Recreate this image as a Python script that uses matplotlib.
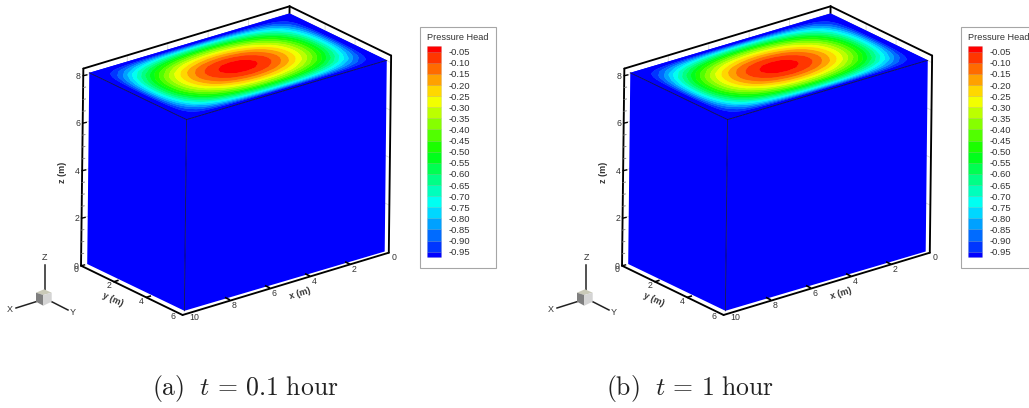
import numpy as np
import matplotlib
matplotlib.use("Agg")
import matplotlib.pyplot as plt

plt.rcParams['font.family'] = ['Liberation Sans', 'DejaVu Sans']
plt.rcParams['mathtext.fontset'] = 'cm'

# Pressure head on the top face z = 8.
# One quadrant only: columns are distance from x = 5, rows distance from y = 3.
dist_x = [0, 0.48, 0.96, 1.44, 1.92, 2.4, 2.88, 3.36, 3.84, 4.32, 4.56, 4.8, 5]
dist_y = [0, 0.24, 0.48, 0.72, 0.96, 1.44, 1.92, 2.4, 2.64, 2.88, 3]
top_head = [
    [-.022, -.030, -.053, -.093, -.149, -.224, -.319, -.439, -.586, -.769, -.877, -1, -1],
    [-.028, -.035, -.058, -.098, -.154, -.229, -.324, -.442, -.589, -.771, -.878, -1, -1],
    [-.044, -.051, -.074, -.113, -.169, -.243, -.336, -.453, -.598, -.776, -.881, -1, -1],
    [-.071, -.078, -.101, -.139, -.194, -.266, -.358, -.472, -.612, -.785, -.886, -1, -1],
    [-.109, -.117, -.139, -.176, -.229, -.299, -.388, -.498, -.633, -.797, -.893, -1, -1],
    [-.224, -.231, -.251, -.285, -.333, -.396, -.475, -.573, -.691, -.831, -.911, -1, -1],
    [-.396, -.401, -.418, -.447, -.486, -.538, -.603, -.680, -.772, -.878, -.936, -1, -1],
    [-.643, -.647, -.657, -.676, -.702, -.735, -.775, -.822, -.875, -.935, -.967, -1, -1],
    [-.804, -.806, -.813, -.823, -.838, -.857, -.880, -.906, -.935, -.967, -.983, -1, -1],
    [-1, -1, -1, -1, -1, -1, -1, -1, -1, -1, -1, -1, -1],
    [-1, -1, -1, -1, -1, -1, -1, -1, -1, -1, -1, -1, -1],
]

levels = [-1.0, -0.95, -0.90, -0.85, -0.80, -0.75, -0.70, -0.65, -0.60, -0.55, -0.50,
          -0.45, -0.40, -0.35, -0.30, -0.25, -0.20, -0.15, -0.10, -0.05, 0.0]
band_colors = ['#0000ff', '#0036ff', '#006bff', '#00a1ff', '#00d7ff', '#00fff2', '#00ffbc',
               '#00ff86', '#00ff51', '#00ff1b', '#1bff00', '#51ff00', '#86ff00', '#bcff00',
               '#f2ff00', '#ffd700', '#ffa100', '#ff6b00', '#ff3600', '#ff0000']
legend_labels = ['-0.05', '-0.10', '-0.15', '-0.20', '-0.25', '-0.30', '-0.35', '-0.40', '-0.45',
                 '-0.50', '-0.55', '-0.60', '-0.65', '-0.70', '-0.75', '-0.80', '-0.85', '-0.90', '-0.95']
x_ticks = [0, 2, 4, 6, 8, 10]
y_ticks = [0, 2, 4, 6]
z_ticks = [0, 2, 4, 6, 8]
z_minor = [0.5, 1, 1.5, 2.5, 3, 3.5, 4.5, 5, 5.5, 6.5, 7, 7.5]
captions = [r'$\mathrm{(a)}\ \ t\,=\,0.1\ \mathrm{hour}$', r'$\mathrm{(b)}\ \ t\,=\,1\ \mathrm{hour}$']

# Projections in pixels: origin, then one unit along x, y and z
BOX = [(287.5, 204.7), (-20.03, 5.93), (16.2, 7.8), (0.26, -23.9)]
FRAME = [(292.2, 206.3), (-20.2, 6.1), (15.0, 7.28), (0.28, -23.75)]
TEXT_COLOR = '#333333'


def project(view, x, y, z, dx=0.0):
    origin, ex, ey, ez = view
    px = origin[0] + np.multiply(x, ex[0]) + np.multiply(y, ey[0]) + np.multiply(z, ez[0]) + dx
    py = origin[1] + np.multiply(x, ex[1]) + np.multiply(y, ey[1]) + np.multiply(z, ez[1])
    return px, py


def full_field():
    """
    Mirrors the quadrant table onto the whole top face.
    """
    q = np.array(top_head)
    rows = np.vstack([q[::-1], q[1:]])
    field = np.hstack([rows[:, ::-1], rows[:, 1:]])
    dx = np.array(dist_x)
    dy = np.array(dist_y)
    xs = np.concatenate([5 - dx[::-1], 5 + dx[1:]])
    ys = np.concatenate([3 - dy[::-1], 3 + dy[1:]])
    return xs, ys, field


def frame_line(ax, a, b, dx, zorder=5, color='black', lw=1.35):
    px, py = project(FRAME, [a[0], b[0]], [a[1], b[1]], [a[2], b[2]], dx)
    ax.plot(px, py, color=color, lw=lw, zorder=zorder, solid_capstyle='round')


def draw_panel(ax, dx):
    x0, x1 = -0.03, 10.18
    y0, y1 = -0.37, 6.4
    z1 = 8.3

    # faint grid on the back walls, only seen in the gap next to the box
    for x in x_ticks[1:-1]:
        frame_line(ax, (x, y0, 0), (x, y0, z1), dx, zorder=1, color='#d9d9d9', lw=0.6)
    for y in y_ticks[1:-1]:
        frame_line(ax, (x0, y, 0), (x0, y, z1), dx, zorder=1, color='#d9d9d9', lw=0.6)
    for z in z_ticks[1:]:
        frame_line(ax, (x1, y0, z), (x0, y0, z), dx, zorder=1, color='#d9d9d9', lw=0.6)
        frame_line(ax, (x0, y0, z), (x0, y1, z), dx, zorder=1, color='#d9d9d9', lw=0.6)
    frame_line(ax, (x0, y0, 8), (x0, y0, z1), dx, zorder=1)

    # blue side faces
    for xs, ys in [([10, 10, 10, 10], [0, 6, 6, 0]), ([10, 0, 0, 10], [6, 6, 6, 6])]:
        px, py = project(BOX, xs, ys, [8, 8, 0, 0], dx)
        ax.fill(px, py, color=band_colors[0], lw=0, zorder=2)

    # top face contours, drawn twice so the antialiased seams between bands close up
    xs, ys, field = full_field()
    gx, gy = np.meshgrid(xs, ys)
    px, py = project(BOX, gx, gy, np.full(gx.shape, 8.0), dx)
    for _ in range(2):
        ax.contourf(px, py, field, levels=levels, colors=band_colors, antialiased=True, zorder=3)

    # thin edges of the box
    px, py = project(BOX, [10, 10, 0], [0, 6, 6], [8, 8, 8], dx)
    ax.plot(px, py, color='#10104a', lw=0.6, zorder=4)
    px, py = project(BOX, [10, 10], [6, 6], [8, 0], dx)
    ax.plot(px, py, color='#10104a', lw=0.6, zorder=4)

    # thick frame
    frame_line(ax, (x1, y0, z1), (x0, y0, z1), dx)
    frame_line(ax, (x0, y0, z1), (x0, y1, z1), dx)
    frame_line(ax, (x1, y0, 0), (x1, y0, z1), dx)
    frame_line(ax, (x0, y1, 0), (x0, y1, z1), dx)
    frame_line(ax, (x1, y0, 0), (x1, y1, 0), dx)
    frame_line(ax, (x1, y1, 0), (x0, y1, 0), dx)

    # z axis
    for z in z_ticks:
        px, py = project(FRAME, x1, y0, z, dx)
        ax.plot([px, px + 3.5], [py, py - 0.8], color='black', lw=1.0, zorder=6)
        ax.text(px - 5, py + 0.5, str(z), fontsize=6.3, color=TEXT_COLOR, ha='center', va='center')
    for z in z_minor:
        px, py = project(FRAME, x1, y0, z, dx)
        ax.plot([px, px + 2.5], [py, py - 0.5], color='#777777', lw=0.6, zorder=6)

    # x axis
    for x in x_ticks:
        px, py = project(BOX, x, 6, 0, dx)
        if 0 < x < 10:
            ax.plot([px + 4.8, px + 1.2], [py + 0.6, py - 1.2], color='black', lw=1.2, zorder=6)
        ax.text(px + 9.8, py + 6.2, str(x), fontsize=6.3, color=TEXT_COLOR, ha='center', va='center')

    # y axis
    for y in y_ticks:
        px, py = project(BOX, 10, y, 0, dx)
        if 0 < y < 6:
            ax.plot([px - 5.4, px - 1.8], [py + 2.1, py + 0.9], color='black', lw=1.2, zorder=6)
        ax.text(px - 11, py + 6, str(y), fontsize=6.3, color=TEXT_COLOR, ha='center', va='center')

    ax.text(62.7 + dx, 172, 'z (m)', fontsize=6.5, fontweight='bold', color=TEXT_COLOR,
            rotation=90, ha='center', va='center')
    ax.text(300 + dx, 294, 'x (m)', fontsize=6.5, fontweight='bold', color=TEXT_COLOR,
            rotation=17, ha='center', va='center')
    ax.text(112.7 + dx, 300, 'y (m)', fontsize=6.5, fontweight='bold', color=TEXT_COLOR,
            rotation=-25, ha='center', va='center')


def draw_triad(ax, dx):
    for xs, ys in [([45, 45], [265, 290]), ([16, 36], [308, 301.7]), ([51.7, 68], [301.7, 310])]:
        ax.plot(np.add(xs, dx), ys, color='#222222', lw=1.1, zorder=5)
    faces = [
        ([44, 36, 43.3, 51.7], [289.3, 292.7, 295, 292.7], '#c9c9b8'),
        ([36, 43.3, 43.3, 36], [292.7, 295, 305.7, 301.7], '#7f7f7f'),
        ([43.3, 51.7, 51.7, 43.3], [295, 292.7, 301.7, 305.7], '#d4d4d4'),
    ]
    for xs, ys, color in faces:
        ax.fill(np.add(xs, dx), ys, color=color, lw=0, zorder=6)
    for label, px, py in [('Z', 45, 257.3), ('X', 9.3, 309.3), ('Y', 73, 312.7)]:
        ax.text(px + dx, py, label, fontsize=6.5, color=TEXT_COLOR, ha='center', va='center')


def draw_legend(ax, dx):
    ax.fill(np.add([420.3, 495.7, 495.7, 420.3], dx), [27.3, 27.3, 268.3, 268.3],
            facecolor='white', edgecolor='#a6a6a6', lw=0.8, zorder=2)
    ax.text(426.7 + dx, 37.7, 'Pressure Head', fontsize=6.6, color=TEXT_COLOR, ha='left', va='center')
    top, step = 51.7, 200.0 / 18
    edges = [top + (-0.05 - lev) / 0.05 * step for lev in levels]
    edges[0], edges[-1] = edges[1] + 5.6, edges[-2] - 6
    for i, color in enumerate(band_colors):
        ax.fill(np.add([426.7, 440.7, 440.7, 426.7], dx), [edges[i], edges[i], edges[i + 1], edges[i + 1]],
                facecolor=color, edgecolor=(0, 0, 0, 0.12), lw=0.4, zorder=3)
    for i, label in enumerate(legend_labels):
        ax.text(448.3 + dx, top + 1 + i * step, label, fontsize=6.8, color=TEXT_COLOR,
                ha='left', va='center')


fig = plt.figure(figsize=(10.29, 4.08), dpi=100)
ax = fig.add_axes([0, 0, 1, 1])

for dx, caption, cx in zip([0.0, 541.0], captions, [245, 690]):
    draw_panel(ax, dx)
    draw_triad(ax, dx)
    draw_legend(ax, dx)
    ax.text(cx, 389, caption, fontsize=18.5, color='#222222', ha='center', va='center')

ax.set_xlim(0, 1029)
ax.set_ylim(408, 0)
ax.axis('off')
fig.savefig('out.png', dpi=100)
